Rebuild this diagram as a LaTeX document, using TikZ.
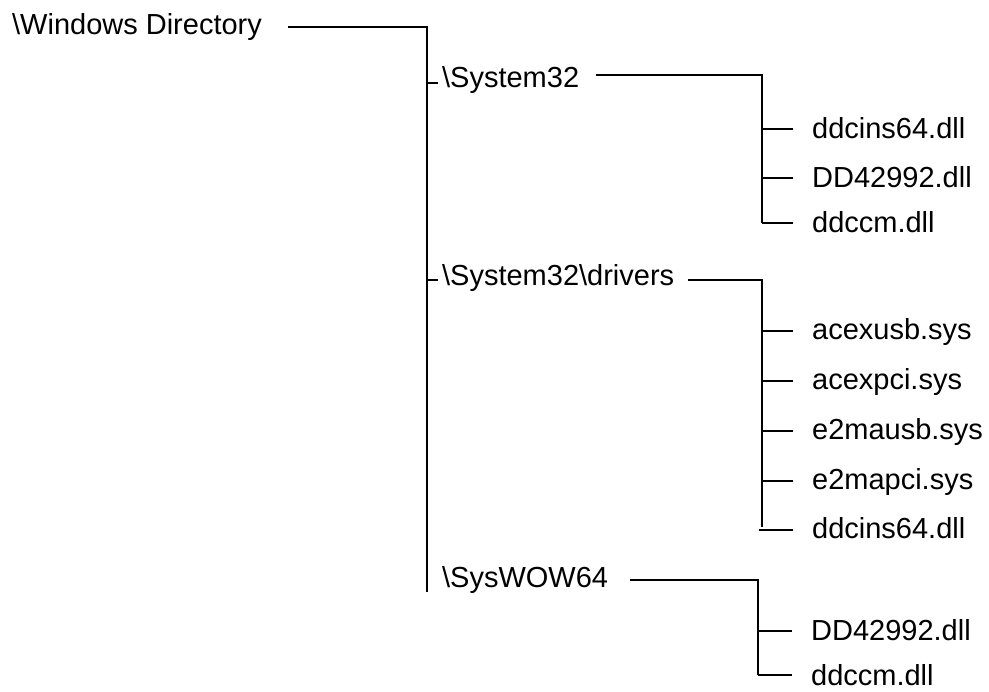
\documentclass[tikz,border=0pt]{standalone}
\usepackage{fontspec}
\setmainfont{Liberation Sans}
\begin{document}
\begin{tikzpicture}[x=1pt,y=-1pt,line width=2.3pt,
  lbl/.style={anchor=base west,inner sep=0pt,font=\fontsize{29}{34}\selectfont}]
\useasboundingbox (0,0) rectangle (989,692);
% root
\node[lbl] (win) at (11,35) {\textbackslash Windows Directory};
\coordinate (mainTop) at (427,27);
\coordinate (mainBot) at (427,592);
\draw ([xshift=25pt]win.east |- mainTop) -- (mainTop) -- (mainBot);
% System32
\node[lbl] (s32) at (441,88) {\textbackslash System32};
\coordinate (s32tick) at (427,83);
\draw (s32tick) -- ([xshift=-3pt]s32.west |- s32tick);
\coordinate (s32top) at (762,75);
\coordinate (s32bot) at (762,223);
\draw ([xshift=16pt]s32.east |- s32top) -- (s32top) -- (s32bot);
\foreach \y/\t [count=\i] in {129/ddcins64.dll,178/DD42992.dll,223/ddccm.dll}{
  \coordinate (a\i) at (762,\y);
  \node[lbl] (an\i) at (811,\y+10) {\t};
  \draw (a\i) -- ([xshift=-18pt]an\i.west |- a\i);
}
% drivers
\node[lbl] (drv) at (441,286) {\textbackslash System32\textbackslash drivers};
\coordinate (drvtick) at (427,280);
\draw (drvtick) -- ([xshift=-3pt]drv.west |- drvtick);
\coordinate (drvtop) at (762,280);
\coordinate (drvbot) at (762,527);
\draw ([xshift=13pt]drv.east |- drvtop) -- (drvtop) -- (drvbot);
\foreach \y/\t [count=\i] in {331/acexusb.sys,381/acexpci.sys,431/e2mausb.sys,481/e2mapci.sys}{
  \coordinate (b\i) at (762,\y);
  \node[lbl] (bn\i) at (811,\y+9) {\t};
  \draw (b\i) -- ([xshift=-18pt]bn\i.west |- b\i);
}
\coordinate (b5) at (759,530);
\node[lbl] (bn5) at (811,539) {ddcins64.dll};
\draw (b5) -- ([xshift=-18pt]bn5.west |- b5);
% SysWOW64
\node[lbl] (wow) at (441,587) {\textbackslash SysWOW64};
\coordinate (wowtop) at (758,580);
\coordinate (wowbot) at (758,675);
\draw ([xshift=21pt]wow.east |- wowtop) -- (wowtop) -- (wowbot);
\foreach \y/\t [count=\i] in {631/DD42992.dll,675/ddccm.dll}{
  \coordinate (c\i) at (758,\y);
  \node[lbl] (cn\i) at (810,\y+10) {\t};
  \draw (c\i) -- ([xshift=-18pt]cn\i.west |- c\i);
}
\end{tikzpicture}
\end{document}
